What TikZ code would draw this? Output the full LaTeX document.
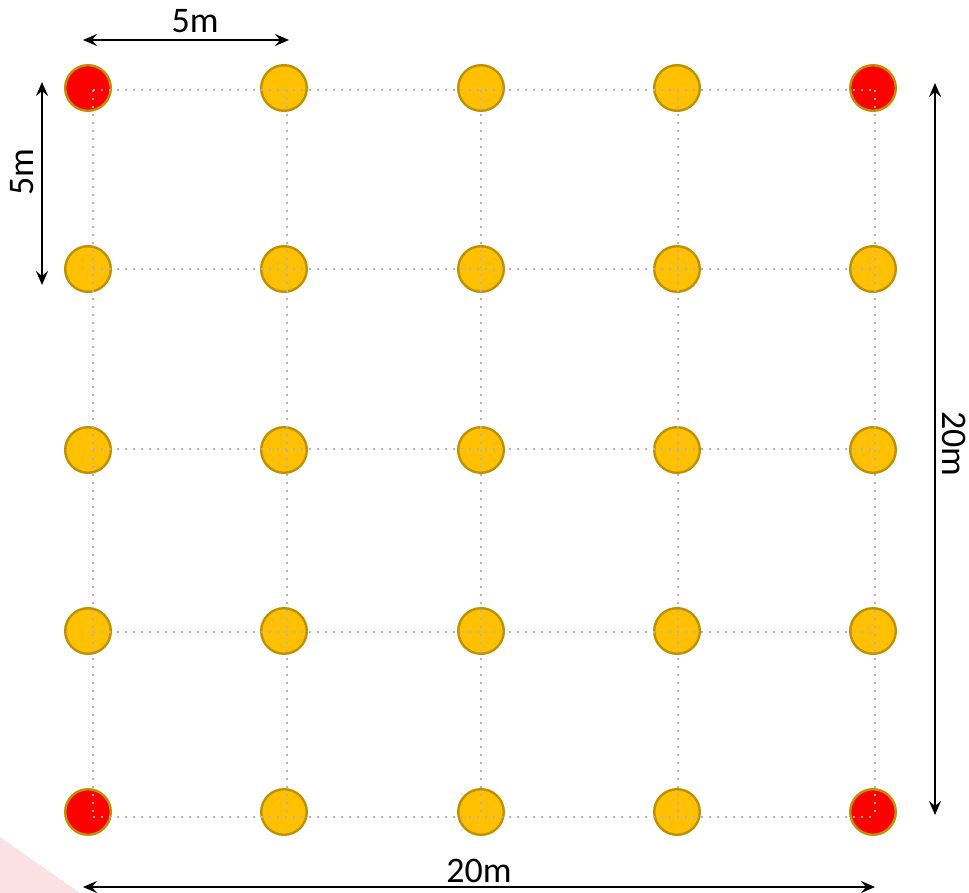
\documentclass[tikz,border=0pt]{standalone}
\usepackage{fontspec}
\setmainfont{Carlito}
\usetikzlibrary{arrows.meta}

\definecolor{poleyellow}{HTML}{FFC000}
\definecolor{polered}{HTML}{FF0000}
\definecolor{poleedge}{HTML}{BF9000}
\definecolor{gridgray}{HTML}{B4B4B4}
\definecolor{cornerpink}{HTML}{FCE1E4}

\tikzset{
  pole/.style={circle, draw=poleedge, line width=2.4pt, fill=#1,
    minimum size=45.6pt, inner sep=0pt},
  gridline/.style={gridgray, line width=1.6pt, dash pattern=on 1.6pt off 6.4pt},
  dimarrow/.style={{Stealth[length=14pt,width=12pt,inset=5pt]}-{Stealth[length=14pt,width=12pt,inset=5pt]},
    line width=2pt},
  dimlabel/.style={font=\fontsize{36}{36}\selectfont, inner sep=0pt, anchor=base}
}

\begin{document}
\begin{tikzpicture}[x=1pt, y=-1pt]
\useasboundingbox (0,0) rectangle (969,893);

% faint corner mark
\fill[cornerpink] (0,837) -- (80,893) -- (0,893) -- cycle;

% poles, red at the four corners
\foreach \px [count=\j] in {88,284,481,677,873}
  \foreach \py [count=\i] in {88,269,450,631,812}{
    \pgfmathtruncatemacro\iscorner{and(or(\i==1,\i==5),or(\j==1,\j==5))}
    \ifnum\iscorner=1 \def\polefill{polered}\else\def\polefill{poleyellow}\fi
    \node[pole=\polefill] (p-\i-\j) at (\px,\py) {};
  }

% grid points
\foreach \gx [count=\j] in {93,287,481,678,875}
  \foreach \gy [count=\i] in {90,269,449,632,817}
    \coordinate (g-\i-\j) at (\gx,\gy);

% dotted grid over the poles
\foreach \i in {1,...,5}{
  \draw[gridline] (g-\i-1) -- (g-\i-5);
  \draw[gridline] (g-1-\i) -- (g-5-\i);
}

% top 5m
\coordinate (top-l) at (83,40);
\coordinate (top-r) at (289,40);
\draw[dimarrow] (top-l) -- (top-r);
\node[dimlabel] (top-lbl) at (195,33) {5m};

% left 5m
\coordinate (left-t) at (42,82);
\coordinate (left-b) at (42,285);
\draw[dimarrow] (left-t) -- (left-b);
\node[dimlabel, rotate=90] (left-lbl) at (33,172) {5m};

% right 20m
\coordinate (right-t) at (935,83);
\coordinate (right-b) at (935,815);
\draw[dimarrow] (right-t) -- (right-b);
\node[dimlabel, rotate=-90] (right-lbl) at (942,444) {20m};

% bottom 20m
\coordinate (bot-l) at (83,887);
\coordinate (bot-r) at (875,887);
\draw[dimarrow] (bot-l) -- (bot-r);
\node[dimlabel] (bot-lbl) at (479,882) {20m};

\end{tikzpicture}
\end{document}
